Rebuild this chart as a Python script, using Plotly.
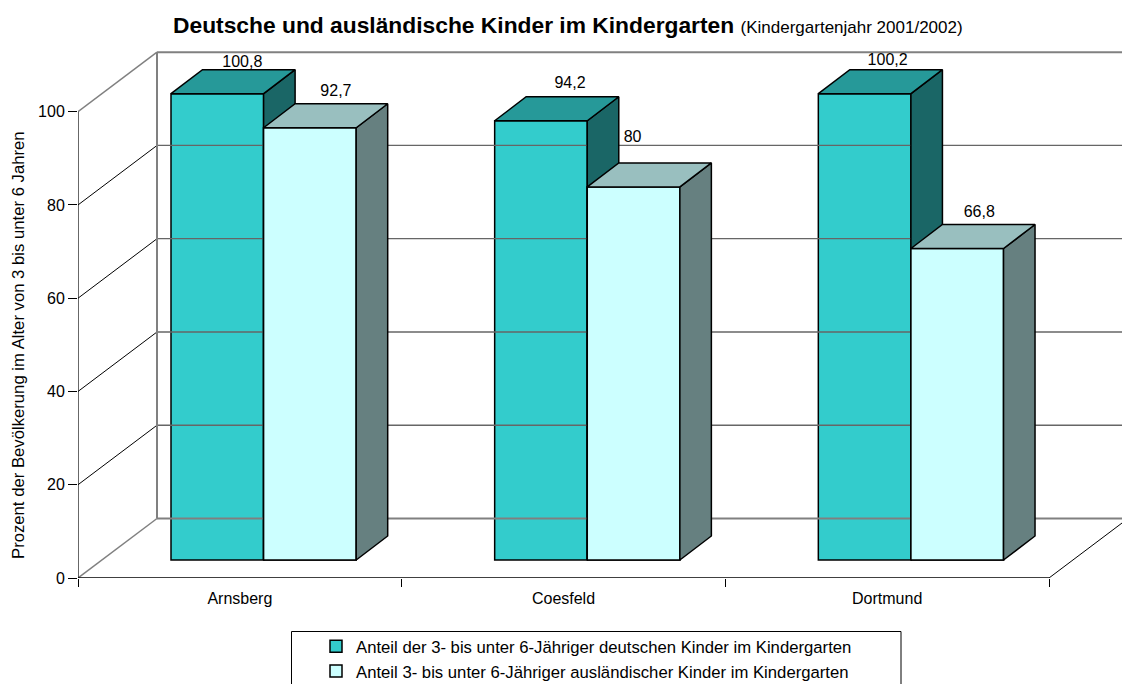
import plotly.graph_objects as go

categories = ["Arnsberg", "Coesfeld", "Dortmund"]
series_names = ["Anteil der 3- bis unter 6-Jähriger deutschen Kinder im Kindergarten",
                "Anteil 3- bis unter 6-Jähriger ausländischer Kinder im Kindergarten"]
y_title = "Prozent der Bevölkerung im Alter von 3 bis unter 6 Jahren"
deutsche = [100.8, 94.2, 100.2]
auslaendische = [92.7, 80, 66.8]
y_ticks = [0, 20, 40, 60, 80, 100]
Y_MAX = 100       # the value axis stops here; taller bars are cut at this value
N_CAT = 3

W, H = 1122, 740   # the page is taller than the 684 px window, so the frame cuts the legend box as in the reference
L, B = 78, 578     # pixel position of the axes origin
PX = 971 / 3       # px per category
PY = 466.3 / 100   # px per percent
R, T = W, 30       # the subplot reaches past the axes, so that the 3D walls stay inside it
WALL_DX, WALL_DY = 79 / PX, 59.5 / PY
BAR_DX, BAR_DY = 31.5 / PX, 24 / PY
BAR_BASE = 18 / PY
GROUP_OFF, BAR_W = 93 / PX, 92.6 / PX
GRAY = "#808080"

fig = go.Figure()


def line(xs, ys, color, width):
    fig.add_trace(go.Scatter(x=xs, y=ys, mode="lines", line=dict(color=color, width=width),
                             showlegend=False, hoverinfo="skip"))


# walls and floor
for v in y_ticks:
    edge = v in (0, Y_MAX)
    line([WALL_DX, N_CAT + WALL_DX], [v + WALL_DY] * 2, GRAY if edge else "#666666", 2 if edge else 1.3)
    line([0, WALL_DX], [v, v + WALL_DY], GRAY if edge else "black", 1.5 if edge else 1)
line([WALL_DX, WALL_DX], [WALL_DY, Y_MAX + WALL_DY], GRAY, 2)
line([N_CAT, N_CAT + WALL_DX], [0, WALL_DY], "black", 1)
# the two axis lines
line([0, 0], [0, Y_MAX], "black", 1.2)
line([0, N_CAT], [0, 0], "black", 1.5)


def poly(xs, ys, fill):
    fig.add_trace(go.Scatter(x=xs + xs[:1], y=ys + ys[:1], mode="lines", fill="toself", fillcolor=fill,
                             line=dict(color="black", width=1.5), showlegend=False, hoverinfo="skip"))


styles = [("#33CCCC", "#269999", "#1A6666"), ("#CCFFFF", "#99BFBF", "#668080")]
all_values = [deutsche, auslaendische]
label_x, label_y, label_t = [], [], []
label_nudge_x = [[25, 29, 23], [26, -1, 22]]   # px, relative to bar centre
label_nudge_y = [[7, 13, 9], [12, 25, 12]]     # px, above bar's back edge

for s, values in enumerate(all_values):
    front, top, side = styles[s]
    clipped = [min(v, Y_MAX) for v in values]
    lefts = [i + GROUP_OFF + s * BAR_W for i in range(N_CAT)]
    fig.add_trace(go.Bar(x=[x + BAR_W / 2 for x in lefts], y=clipped, base=BAR_BASE, width=BAR_W,
                         name=series_names[s], legendgroup=f"s{s}",
                         marker=dict(color=front, line=dict(color="black", width=1.5)), hoverinfo="skip"))
    for i, (x0, v, raw) in enumerate(zip(lefts, clipped, values)):
        x1 = x0 + BAR_W
        h = BAR_BASE + v
        if s == 1:  # the light front must cover the dark side of its neighbour
            poly([x0, x0, x1, x1], [BAR_BASE, h, h, BAR_BASE], front)
        poly([x1, x1 + BAR_DX, x1 + BAR_DX, x1], [BAR_BASE, BAR_BASE + BAR_DY, h + BAR_DY, h], side)
        poly([x0, x0 + BAR_DX, x1 + BAR_DX, x1], [h, h + BAR_DY, h + BAR_DY, h], top)
        label_x.append(x0 + BAR_W / 2 + label_nudge_x[s][i] / PX)
        label_y.append(h + BAR_DY + label_nudge_y[s][i] / PY)
        label_t.append(f"{raw:g}".replace(".", ","))

fig.add_trace(go.Scatter(x=label_x, y=label_y, text=label_t, mode="text", textposition="middle center",
                         textfont=dict(size=16, color="black"), showlegend=False, hoverinfo="skip"))


def paper_x(px):
    return (px - L) / (R - L)


def paper_y(px):
    return (B - px) / (B - T)


fig.add_shape(type="rect", xref="paper", yref="paper", layer="below",
              x0=paper_x(291.5), x1=paper_x(901), y0=paper_y(720), y1=paper_y(631.5),
              line=dict(color="black", width=1), fillcolor="white")
fig.add_annotation(text=y_title, textangle=-90, xref="paper", yref="paper", x=paper_x(18), y=paper_y(345),
                   xanchor="center", yanchor="middle", showarrow=False, font=dict(size=16.7))

fig.update_layout(
    width=W, height=H, autosize=False,
    margin=dict(l=L, r=W - R, t=T, b=H - B, pad=0),
    paper_bgcolor="white", plot_bgcolor="rgba(0,0,0,0)",
    font=dict(family="Liberation Sans, Arial, sans-serif", size=16, color="black"),
    barmode="overlay",
    title=dict(text="<b>Deutsche und ausländische Kinder im Kindergarten</b> "
                    "<span style='font-size:17px'>(Kindergartenjahr 2001/2002)</span>",
               x=173 / W, xanchor="left", xref="container", y=1 - 25 / H, yanchor="middle", yref="container",
               font=dict(size=22.8)),
    xaxis=dict(range=[0, (R - L) / PX], tickvals=[0.5, 1.5, 2.5], ticktext=categories, ticks="", showgrid=False,
               zeroline=False, showline=False, tickangle=0,
               minor=dict(tickvals=[0, 1, 2, 3], ticks="outside", ticklen=8, tickcolor="black", tickwidth=1),
               ticklabelstandoff=9),
    yaxis=dict(range=[0, (B - T) / PY], tickvals=y_ticks, ticks="outside", ticklen=9, tickcolor="black", tickwidth=1,
               showgrid=False, zeroline=False, showline=False),
    legend=dict(x=paper_x(316), xanchor="left", y=paper_y(629), yanchor="top",
                orientation="v", traceorder="normal", tracegroupgap=9, bgcolor="rgba(0,0,0,0)",
                font=dict(size=16.7), borderwidth=0),
)
fig.write_html("out.html", config={"displayModeBar": False},
               post_script="document.body.style.margin='0';document.body.style.overflow='hidden';")
